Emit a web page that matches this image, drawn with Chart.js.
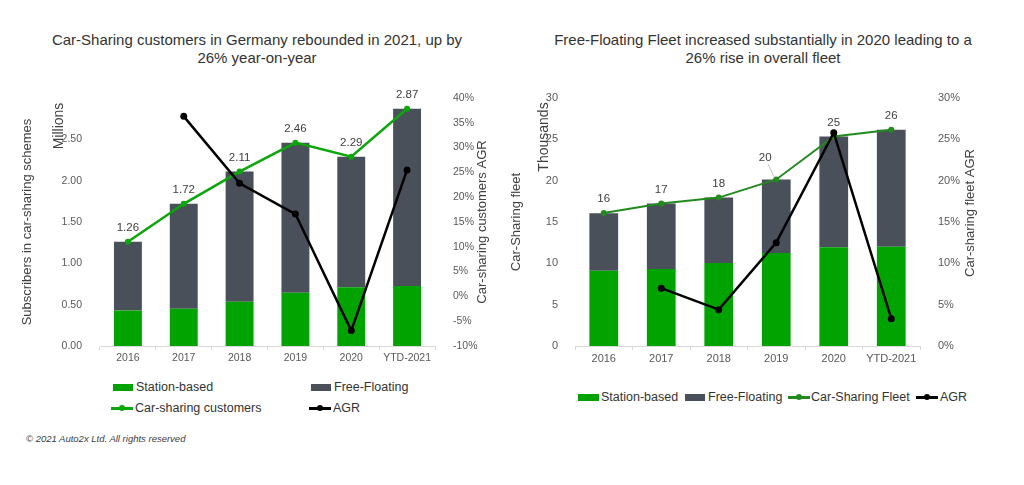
<!DOCTYPE html>
<html>
<head>
<meta charset="utf-8">
<script src="https://cdn.jsdelivr.net/npm/chart.js@4.4.1/dist/chart.umd.min.js"></script>
<style>
  body { margin: 0; width: 1024px; height: 485px; background: #fff; position: relative; overflow: hidden;
         font-family: "Liberation Sans", Arial, sans-serif; color: #404040; }
  .title { position: absolute; top: 31px; width: 460px; text-align: center; font-size: 15px; line-height: 18px; color: #333; }
  .wrap { position: absolute; top: 0; height: 380px; }
  .lg { position: absolute; font-size: 12.5px; color: #333; white-space: nowrap; line-height: 14px; height: 14px; }
  .box { position: absolute; left: 0; top: 4px; width: 20px; height: 7px; }
  .mk { position: absolute; left: 0; top: 6px; width: 22px; height: 2.5px; }
  .mk i { position: absolute; left: 8px; top: -2px; width: 6px; height: 6px; border-radius: 50%; }
  .lg span { position: absolute; left: 23px; top: 0; }
  .foot { position: absolute; left: 26px; top: 433px; font-size: 9.5px; font-style: italic; color: #404040; }
</style>
</head>
<body>
<div class="title" style="left:27px">Car-Sharing customers in Germany rebounded in 2021, up by<br>26% year-on-year</div>
<div class="title" style="left:533px">Free-Floating Fleet increased substantially in 2020 leading to a<br>26% rise in overall fleet</div>

<div class="wrap" style="left:0;width:512px"><canvas id="customersChart"></canvas></div>
<div class="wrap" style="left:500px;width:524px"><canvas id="fleetChart"></canvas></div>

<!-- legend, left chart -->
<div class="lg" style="left:113px;top:380px"><div class="box" style="background:#00a300"></div><span>Station-based</span></div>
<div class="lg" style="left:311px;top:380px"><div class="box" style="background:#4a505a"></div><span>Free-Floating</span></div>
<div class="lg" style="left:111px;top:401px"><div class="mk" style="background:#0aa60a"><i style="background:#0aa60a"></i></div><span style="left:24px">Car-sharing customers</span></div>
<div class="lg" style="left:309px;top:401px"><div class="mk" style="background:#000"><i style="background:#000"></i></div><span style="left:24px">AGR</span></div>

<!-- legend, right chart -->
<div class="lg" style="left:578px;top:390px"><div class="box" style="background:#00a300;width:21px"></div><span>Station-based</span></div>
<div class="lg" style="left:685px;top:390px"><div class="box" style="background:#4a505a"></div><span>Free-Floating</span></div>
<div class="lg" style="left:788px;top:390px"><div class="mk" style="background:#238a1e"><i style="background:#238a1e"></i></div><span>Car-Sharing Fleet</span></div>
<div class="lg" style="left:916px;top:390px"><div class="mk" style="background:#000"><i style="background:#000"></i></div><span style="left:24px">AGR</span></div>

<div class="foot">© 2021 Auto2x Ltd. All rights reserved</div>

<script>
const years = ['2016', '2017', '2018', '2019', '2020', 'YTD-2021'];

// customers (millions)
const custStation = [0.43, 0.45, 0.535, 0.645, 0.71, 0.725];
const custFree = [0.83, 1.27, 1.575, 1.815, 1.58, 2.145];
const custTotal = [1.26, 1.72, 2.11, 2.46, 2.29, 2.87];
const custAgr = [null, 36.3, 22.8, 16.6, -6.9, 25.5];

// fleet (thousands)
const fleetStation = [9.1, 9.3, 10.05, 11.25, 11.95, 12.0];
const fleetFree = [6.95, 7.95, 7.9, 8.9, 13.4, 14.15];
const fleetTotal = [16.1, 17.25, 17.95, 20.15, 25.35, 26.15];
const fleetAgr = [null, 7.0, 4.4, 12.5, 25.8, 3.3];

const FONT = '"Liberation Sans", Arial, sans-serif';
const GREEN = '#00a300';
const GREY = '#4a505a';

function rotatedText(ctx, t) {
  ctx.save();
  ctx.translate(t.x, t.y);
  ctx.rotate(-Math.PI / 2);
  ctx.font = t.size + 'px ' + FONT;
  ctx.fillStyle = '#404040';
  ctx.textAlign = 'center';
  ctx.textBaseline = 'middle';
  ctx.fillText(t.text, 0, 0);
  ctx.restore();
}

// value labels above the total line, units label and right axis title
const pointLabels = {
  id: 'pointLabels',
  afterDatasetsDraw(chart, args, opts) {
    const ctx = chart.ctx;
    const meta = chart.getDatasetMeta(opts.dataset);
    const values = chart.data.datasets[opts.dataset].data;
    ctx.save();
    ctx.font = '11.5px ' + FONT;
    ctx.fillStyle = '#404040';
    ctx.textAlign = 'center';
    ctx.textBaseline = 'middle';
    meta.data.forEach((pt, i) => {
      const lead = opts.leader && opts.leader.index === i ? opts.leader : null;
      const dx = lead ? lead.dx : 0;
      const dy = lead ? lead.dy : -14;
      if (lead) {
        ctx.strokeStyle = '#bfbfbf';
        ctx.lineWidth = 1;
        ctx.beginPath();
        ctx.moveTo(pt.x + dx + 3, pt.y + dy + 7);
        ctx.lineTo(pt.x - 2, pt.y - 2);
        ctx.stroke();
      }
      ctx.fillText(opts.format(values[i]), pt.x + dx, pt.y + dy);
    });
    ctx.restore();
    rotatedText(ctx, opts.units);
    rotatedText(ctx, opts.rightTitle);
  }
};

function barSet(label, data, color) {
  return { type: 'bar', label, data, backgroundColor: color, yAxisID: 'y', stack: 'bars',
           order: 3, barPercentage: 0.5, categoryPercentage: 1 };
}

function lineSet(label, data, color, axis, width, radius, order) {
  return { type: 'line', label, data, borderColor: color, backgroundColor: color,
           pointBackgroundColor: color, pointBorderColor: color, borderWidth: width,
           pointRadius: radius, pointBorderWidth: 0, tension: 0, yAxisID: axis, stack: label, order };
}

function makeChart(id, cfg) {
  const tickFont = { family: FONT, size: cfg.tickSize };
  const titleFont = { family: FONT, size: 13 };
  return new Chart(document.getElementById(id), {
    data: {
      labels: years,
      datasets: [
        barSet('Station-based', cfg.station, GREEN),
        barSet('Free-Floating', cfg.free, GREY),
        lineSet(cfg.lineName, cfg.total, cfg.lineColor, 'y', cfg.lineWidth, 3, 2),
        lineSet('AGR', cfg.agr, '#000', 'y1', 2.5, 3.5, 1),
      ]
    },
    options: {
      responsive: true,
      maintainAspectRatio: false,
      animation: false,
      layout: { padding: { top: 98, left: 0, right: 0, bottom: 0 } },
      plugins: {
        legend: { display: false },
        tooltip: { enabled: false },
        pointLabels: { dataset: 2, format: cfg.fmt, leader: cfg.leader, units: cfg.units, rightTitle: cfg.y1Title }
      },
      scales: {
        x: {
          stacked: true,
          afterFit: s => { s.height = 34; },
          grid: { offset: true, drawOnChartArea: false, drawTicks: true, tickLength: 4, color: '#d9d9d9' },
          border: { color: '#d9d9d9' },
          ticks: { padding: 2, maxRotation: 0, font: tickFont, color: '#595959' }
        },
        y: {
          stacked: true,
          position: 'left',
          min: 0, max: cfg.yMax,
          afterFit: s => { s.width = cfg.yWidth; },
          grid: { display: false },
          border: { display: false },
          ticks: { stepSize: cfg.yStep, padding: cfg.yPad, font: tickFont, color: '#595959', callback: cfg.yTick },
          title: { display: true, text: cfg.yTitle, font: titleFont, color: '#404040', padding: { top: cfg.yTitlePad } }
        },
        y1: {
          position: 'right',
          min: cfg.pMin, max: cfg.pMax,
          afterFit: s => { s.width = cfg.y1Width; },
          grid: { display: false },
          border: { display: false },
          ticks: { stepSize: 5, padding: 10, font: tickFont, color: '#595959', callback: v => v + '%' }
        }
      }
    },
    plugins: [pointLabels]
  });
}

makeChart('customersChart', {
  station: custStation, free: custFree, total: custTotal, agr: custAgr,
  lineName: 'Car-sharing customers', lineColor: '#0aa60a', lineWidth: 2.5,
  tickSize: 10.5,
  yMax: 3, yStep: 0.5, yWidth: 100, yPad: 10,
  yTick: v => (v >= 3 ? '' : v.toFixed(2)),
  yTitle: 'Subscribers in car-sharing schemes', yTitlePad: 20,
  pMin: -10, pMax: 40, y1Width: 77,
  y1Title: { text: 'Car-sharing customers AGR', x: 482, y: 222, size: 13 },
  fmt: v => v.toFixed(2),
  units: { text: 'Millions', x: 59, y: 126, size: 14 }
});

makeChart('fleetChart', {
  station: fleetStation, free: fleetFree, total: fleetTotal, agr: fleetAgr,
  lineName: 'Car-Sharing Fleet', lineColor: '#238a1e', lineWidth: 2,
  tickSize: 11,
  yMax: 30, yStep: 5, yWidth: 75, yPad: 9,
  yTick: v => v,
  yTitle: 'Car-Sharing fleet', yTitlePad: 9,
  pMin: 0, pMax: 30, y1Width: 104,
  y1Title: { text: 'Car-sharing fleet AGR', x: 470, y: 213, size: 13 },
  fmt: v => String(Math.round(v)),
  leader: { index: 3, dx: -11, dy: -22 },
  units: { text: 'Thousands', x: 44, y: 137, size: 14 }
});
</script>
</body>
</html>
